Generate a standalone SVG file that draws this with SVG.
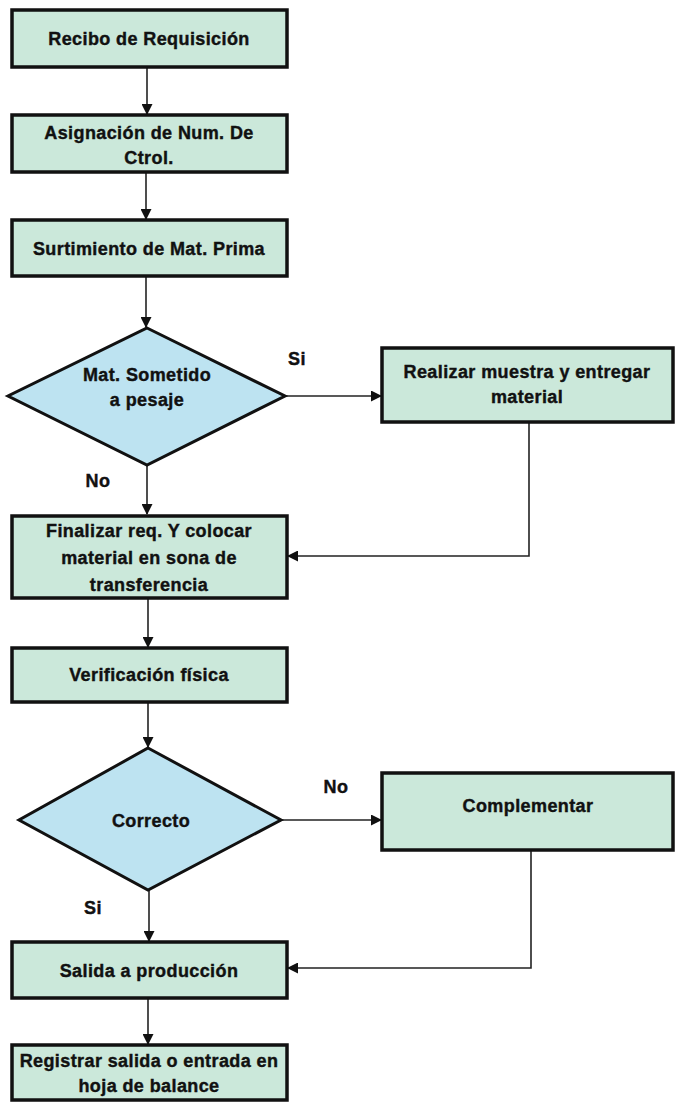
<svg xmlns="http://www.w3.org/2000/svg" width="677" height="1110" viewBox="0 0 677 1110">
  <style>
    .box { fill: #cbe8da; stroke: #111; stroke-width: 3.5; }
    .dec { fill: #bde3f1; stroke: #111; stroke-width: 3; }
    .lbl { font-family: "Liberation Sans", Arial, sans-serif; font-weight: bold; font-size: 18px; letter-spacing: 0.4px; fill: #111; stroke: #111; stroke-width: 0.4; text-anchor: middle; }
    .edge { fill: none; stroke: #222; stroke-width: 1.6; }
  </style>
  <defs>
    <marker id="arr" markerWidth="11" markerHeight="11" refX="10" refY="5.5" orient="auto" markerUnits="userSpaceOnUse">
      <path d="M0,0 L11,5.5 L0,11 Z" fill="#111"/>
    </marker>
  </defs>
  <rect width="677" height="1110" fill="#ffffff"/>

  <g id="connectors">
    <line class="edge" x1="147" y1="67" x2="147" y2="114" marker-end="url(#arr)"/>
    <line class="edge" x1="146" y1="172" x2="146" y2="219" marker-end="url(#arr)"/>
    <line class="edge" x1="146" y1="276" x2="146" y2="327" marker-end="url(#arr)"/>
    <line class="edge" x1="285" y1="396" x2="381" y2="396" marker-end="url(#arr)"/>
    <line class="edge" x1="147" y1="465" x2="147" y2="514" marker-end="url(#arr)"/>
    <polyline class="edge" points="529,422 529,556 288,556" marker-end="url(#arr)"/>
    <line class="edge" x1="148" y1="598" x2="148" y2="647" marker-end="url(#arr)"/>
    <line class="edge" x1="148" y1="702" x2="148" y2="747" marker-end="url(#arr)"/>
    <line class="edge" x1="281" y1="820" x2="381" y2="820" marker-end="url(#arr)"/>
    <line class="edge" x1="149" y1="890" x2="149" y2="941" marker-end="url(#arr)"/>
    <polyline class="edge" points="531,850 531,968 288,968" marker-end="url(#arr)"/>
    <line class="edge" x1="148" y1="998" x2="148" y2="1044" marker-end="url(#arr)"/>
  </g>

  <g id="n1">
    <rect class="box" x="12" y="10" width="275" height="57"/>
    <text class="lbl" x="149" y="45">Recibo de Requisición</text>
  </g>
  <g id="n2">
    <rect class="box" x="12" y="115" width="275" height="57"/>
    <text class="lbl" x="149" y="139">Asignación de Num. De</text>
    <text class="lbl" x="149" y="164">Ctrol.</text>
  </g>
  <g id="n3">
    <rect class="box" x="12" y="220" width="275" height="56"/>
    <text class="lbl" x="149" y="255">Surtimiento de Mat. Prima</text>
  </g>
  <g id="d1">
    <polygon class="dec" points="147,328 285,396 147,465 8,396"/>
    <text class="lbl" x="147" y="381">Mat. Sometido</text>
    <text class="lbl" x="147" y="406">a pesaje</text>
  </g>
  <text class="lbl" x="297" y="365">Si</text>
  <text class="lbl" x="98" y="487">No</text>
  <g id="n4">
    <rect class="box" x="382" y="348" width="291" height="74"/>
    <text class="lbl" x="527" y="378">Realizar muestra y entregar</text>
    <text class="lbl" x="527" y="403">material</text>
  </g>
  <g id="n5">
    <rect class="box" x="12" y="516" width="275" height="82"/>
    <text class="lbl" x="149" y="537">Finalizar req. Y colocar</text>
    <text class="lbl" x="149" y="564">material en sona de</text>
    <text class="lbl" x="149" y="591">transferencia</text>
  </g>
  <g id="n6">
    <rect class="box" x="12" y="648" width="275" height="54"/>
    <text class="lbl" x="149" y="681">Verificación física</text>
  </g>
  <g id="d2">
    <polygon class="dec" points="148,748 281,820 148,890 19,820"/>
    <text class="lbl" x="151" y="827">Correcto</text>
  </g>
  <text class="lbl" x="336" y="793">No</text>
  <text class="lbl" x="93" y="914">Si</text>
  <g id="n7">
    <rect class="box" x="382" y="773" width="291" height="77"/>
    <text class="lbl" x="528" y="812">Complementar</text>
  </g>
  <g id="n8">
    <rect class="box" x="12" y="942" width="275" height="56"/>
    <text class="lbl" x="149" y="977">Salida a producción</text>
  </g>
  <g id="n9">
    <rect class="box" x="12" y="1045" width="275" height="55"/>
    <text class="lbl" x="149" y="1067">Registrar salida o entrada en</text>
    <text class="lbl" x="149" y="1092">hoja de balance</text>
  </g>
</svg>
